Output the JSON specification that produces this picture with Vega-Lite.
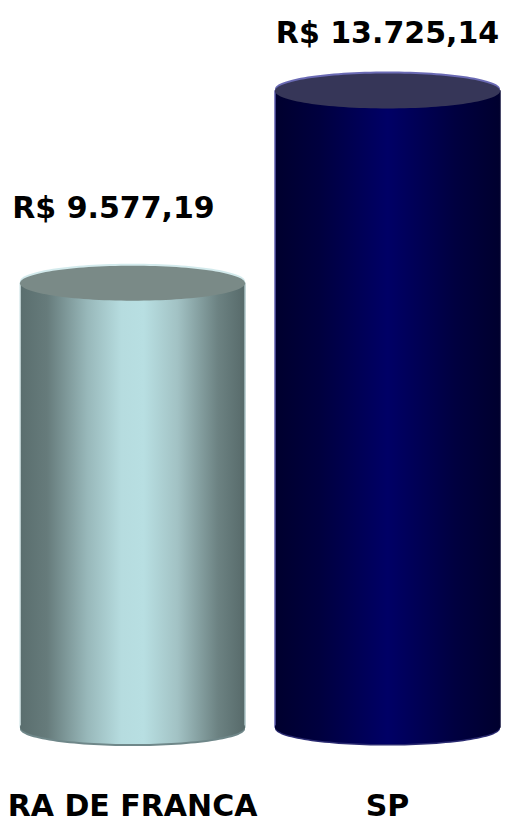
{
  "$schema": "https://vega.github.io/schema/vega-lite/v6.json",
  "autosize": {"type": "none"},
  "padding": {"left": 0, "top": 0, "right": 0, "bottom": 92},
  "width": 505,
  "height": 727,
  "background": "white",
  "config": {"view": {"stroke": null}},
  "data": {
    "values": [
      {"region": "RA DE FRANCA", "value": 9577.19, "label": "R$ 9.577,19"},
      {"region": "SP", "value": 13725.14, "label": "R$ 13.725,14"}
    ]
  },
  "encoding": {
    "x": {
      "field": "region",
      "type": "nominal",
      "sort": null,
      "scale": {"range": [5, 515], "paddingInner": 0.118, "paddingOuter": 0.059},
      "axis": {
        "title": null,
        "domain": false,
        "ticks": false,
        "tickSize": 0,
        "grid": false,
        "labelAngle": 0,
        "labelLimit": 0,
        "labelFont": "DejaVu Sans",
        "labelFontSize": 30,
        "labelFontWeight": "bold",
        "labelColor": "#000000",
        "labelBaseline": "alphabetic",
        "labelPadding": 88
      }
    }
  },
  "layer": [
    {
      "transform": [{"filter": "datum.region === 'RA DE FRANCA'"}],
      "layer": [
        {
          "mark": {
            "type": "bar",
            "strokeWidth": 1.5,
            "fill": {"gradient": "linear", "x1": 0, "x2": 1, "y1": 0, "y2": 0, "stops": [
              {"offset": 0, "color": "#5a6e6e"}, {"offset": 0.12, "color": "#667b7b"},
              {"offset": 0.3, "color": "#98b8ba"}, {"offset": 0.45, "color": "#b6dcdf"},
              {"offset": 0.55, "color": "#b8dfe2"}, {"offset": 0.7, "color": "#a2c2c4"},
              {"offset": 0.88, "color": "#6c8282"}, {"offset": 1, "color": "#576a6a"}]},
            "stroke": {"gradient": "linear", "x1": 0, "x2": 1, "y1": 0, "y2": 0, "stops": [
              {"offset": 0, "color": "#d8eaec"}, {"offset": 0.03, "color": "#5a6e6e"},
              {"offset": 0.97, "color": "#576a6a"}, {"offset": 1, "color": "#a9c1c3"}]}
          },
          "encoding": {
            "y": {"field": "value", "type": "quantitative", "scale": {"domain": [0, 15689], "nice": false, "zero": true}, "axis": null}
          }
        },
        {
          "mark": {"type": "point", "filled": true, "opacity": 1, "size": 50625, "yOffset": 2,
            "shape": "M-1,0A1,0.152,0,1,1,1,0A1,0.152,0,1,1,-1,0Z", "fill": "#6f8789"},
          "encoding": {"y": {"datum": 0, "type": "quantitative"}}
        },
        {
          "mark": {"type": "point", "filled": true, "opacity": 1, "size": 50625,
            "shape": "M-1,0A1,0.152,0,1,1,1,0A1,0.152,0,1,1,-1,0Z",
            "fill": {"gradient": "linear", "x1": 0, "x2": 1, "y1": 0, "y2": 0, "stops": [
              {"offset": 0, "color": "#5a6e6e"}, {"offset": 0.12, "color": "#667b7b"},
              {"offset": 0.3, "color": "#98b8ba"}, {"offset": 0.45, "color": "#b6dcdf"},
              {"offset": 0.55, "color": "#b8dfe2"}, {"offset": 0.7, "color": "#a2c2c4"},
              {"offset": 0.88, "color": "#6c8282"}, {"offset": 1, "color": "#576a6a"}]}},
          "encoding": {"y": {"datum": 0, "type": "quantitative"}}
        },
        {
          "mark": {"type": "point", "filled": true, "opacity": 1, "size": 50625, "yOffset": -2,
            "shape": "M-1,0A1,0.155,0,1,1,1,0A1,0.155,0,1,1,-1,0Z", "fill": "#d3eaec"},
          "encoding": {"y": {"field": "value", "type": "quantitative"}}
        },
        {
          "mark": {"type": "point", "filled": true, "opacity": 1, "size": 50625,
            "shape": "M-1,0A1,0.155,0,1,1,1,0A1,0.155,0,1,1,-1,0Z", "fill": "#7a8a87"},
          "encoding": {"y": {"field": "value", "type": "quantitative"}}
        },
        {
          "mark": {"type": "text", "font": "DejaVu Sans", "fontSize": 30, "fontWeight": "bold",
            "color": "#000000", "baseline": "alphabetic", "align": "center", "dx": -19, "dy": -65},
          "encoding": {"y": {"field": "value", "type": "quantitative"}, "text": {"field": "label"}}
        }
      ]
    },
    {
      "transform": [{"filter": "datum.region === 'SP'"}],
      "layer": [
        {
          "mark": {
            "type": "bar",
            "strokeWidth": 1.5,
            "fill": {"gradient": "linear", "x1": 0, "x2": 1, "y1": 0, "y2": 0, "stops": [
              {"offset": 0, "color": "#00002e"}, {"offset": 0.2, "color": "#00003f"},
              {"offset": 0.5, "color": "#000066"}, {"offset": 0.8, "color": "#000040"},
              {"offset": 1, "color": "#00002e"}]},
            "stroke": {"gradient": "linear", "x1": 0, "x2": 1, "y1": 0, "y2": 0, "stops": [
              {"offset": 0, "color": "#5555aa"}, {"offset": 0.03, "color": "#00002e"},
              {"offset": 1, "color": "#00002e"}]}
          },
          "encoding": {
            "y": {"field": "value", "type": "quantitative", "axis": null}
          }
        },
        {
          "mark": {"type": "point", "filled": true, "opacity": 1, "size": 50625, "yOffset": 1.5,
            "shape": "M-1,0A1,0.152,0,1,1,1,0A1,0.152,0,1,1,-1,0Z", "fill": "#2a2a70"},
          "encoding": {"y": {"datum": 0, "type": "quantitative"}}
        },
        {
          "mark": {"type": "point", "filled": true, "opacity": 1, "size": 50625,
            "shape": "M-1,0A1,0.152,0,1,1,1,0A1,0.152,0,1,1,-1,0Z",
            "fill": {"gradient": "linear", "x1": 0, "x2": 1, "y1": 0, "y2": 0, "stops": [
              {"offset": 0, "color": "#00002e"}, {"offset": 0.2, "color": "#00003f"},
              {"offset": 0.5, "color": "#000066"}, {"offset": 0.8, "color": "#000040"},
              {"offset": 1, "color": "#00002e"}]}},
          "encoding": {"y": {"datum": 0, "type": "quantitative"}}
        },
        {
          "mark": {"type": "point", "filled": true, "opacity": 1, "size": 50625, "yOffset": -2,
            "shape": "M-1,0A1,0.155,0,1,1,1,0A1,0.155,0,1,1,-1,0Z", "fill": "#6a6ab4"},
          "encoding": {"y": {"field": "value", "type": "quantitative"}}
        },
        {
          "mark": {"type": "point", "filled": true, "opacity": 1, "size": 50625,
            "shape": "M-1,0A1,0.155,0,1,1,1,0A1,0.155,0,1,1,-1,0Z", "fill": "#363658"},
          "encoding": {"y": {"field": "value", "type": "quantitative"}}
        },
        {
          "mark": {"type": "text", "font": "DejaVu Sans", "fontSize": 30, "fontWeight": "bold",
            "color": "#000000", "baseline": "alphabetic", "align": "center", "dx": 0, "dy": -48},
          "encoding": {"y": {"field": "value", "type": "quantitative"}, "text": {"field": "label"}}
        }
      ]
    }
  ]
}
